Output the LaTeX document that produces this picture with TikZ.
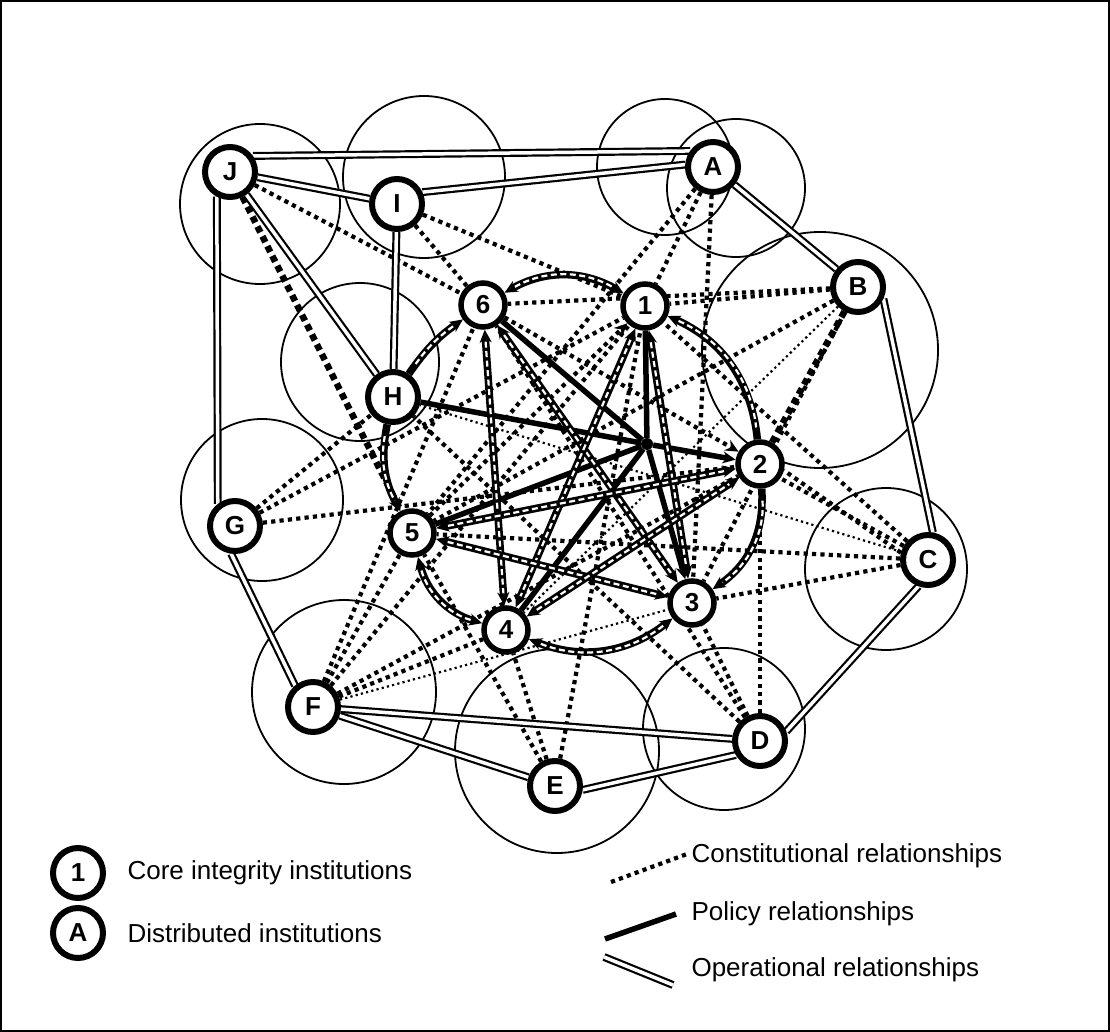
\documentclass[tikz,border=0pt]{standalone}
\usepackage{fontspec}
\setmainfont{Liberation Sans}
\usetikzlibrary{arrows.meta}
\pgfdeclarelayer{bg}
\pgfsetlayers{bg,main}
\begin{document}
\begin{tikzpicture}[x=1pt,y=-1pt,
  >={Stealth[length=13pt,width=12pt]},
  dist/.style={circle,draw,line width=6pt,fill=white,minimum size=50pt,inner sep=0pt,font=\fontsize{26}{30}\selectfont\bfseries},
  core/.style={circle,draw,line width=5.5pt,fill=white,minimum size=44pt,inner sep=0pt,font=\fontsize{26}{30}\selectfont\bfseries},
  zone/.style={draw,line width=1.8pt},
  cons/.style={line width=4.2pt,dash pattern=on 4.2pt off 4.2pt},
  consheavy/.style={line width=6.5pt,dash pattern=on 6.5pt off 4.5pt},
  consthin/.style={line width=2.2pt,dash pattern=on 2.2pt off 3.2pt},
  oper/.style={double,double distance=3.5pt,line width=2.2pt},
  pol/.style={line width=5.5pt},
  mix/.style={line width=7.5pt,postaction={draw=white,line width=2.2pt,dash pattern=on 6pt off 3.5pt,-,shorten >=12pt,shorten <=12pt}},
  lab/.style={anchor=west,font=\fontsize{26}{30}\selectfont}]
\useasboundingbox (0,0) rectangle (1110,1032);
\draw[line width=1.8pt] (1,1) rectangle (1109,1031);
% distributed nodes
\node[dist] (J) at (230,172) {J};
\node[dist] (I) at (397,204) {I};
\node[dist] (A) at (713,167) {A};
\node[dist] (B) at (858,287) {B};
\node[dist] (H) at (393,397) {H};
\node[dist] (G) at (235,526) {G};
\node[dist] (C) at (928,560) {C};
\node[dist] (F) at (313,707) {F};
\node[dist] (D) at (760,741) {D};
\node[dist] (E) at (555,786) {E};
% core nodes
\node[core] (n6) at (483,305) {6};
\node[core] (n1) at (645,306) {1};
\node[core] (n2) at (760,464) {2};
\node[core] (n3) at (692,603) {3};
\node[core] (n4) at (506,630) {4};
\node[core] (n5) at (412,533) {5};
\node[circle,fill,inner sep=0pt,minimum size=12pt] (hub) at (647,444) {};
\begin{pgfonlayer}{bg}
% zones
\draw[zone] (260,204) circle[radius=80pt];
\draw[zone] (424,177) circle[radius=81pt];
\draw[zone] (665,167) circle[radius=68pt];
\draw[zone] (736,188) circle[radius=69pt];
\draw[zone] (820,350) circle[radius=118pt];
\draw[zone] (360,362) circle[radius=79pt];
\draw[zone] (262,500) circle[radius=81pt];
\draw[zone] (344,692) circle[radius=92pt];
\draw[zone] (886,569) circle[radius=81pt];
\draw[zone] (724,729) circle[radius=81pt];
\draw[zone] (557,751) circle[radius=102pt];
% constitutional
\draw[cons] (J) -- (n6);
\draw[cons] (I) -- (n6);
\draw[cons] (I) -- (n1);
\draw[cons] (A) -- (n5);
\draw[cons] (A) -- (n1);
\draw[cons] (A) -- (n3);
\draw[cons] (B) -- (n6);
\draw[cons] (B) -- (n1);
\draw[cons] (B) -- (n5);
\draw[cons] (B) -- (n3);
\draw[cons] (C) -- (n1);
\draw[cons] (C.165) -- (n2.-15);
\draw[cons] (C.150) -- (n2.-35);
\draw[cons] (C) -- (n5);
\draw[cons] (C) -- (n3);
\draw[cons] (D) -- (n2);
\draw[cons] (D) -- (n3);
\draw[cons] (D) -- (n6);
\draw[cons] (D) -- (H);
\draw[cons] (E) -- (n1);
\draw[cons] (E) -- (n4);
\draw[cons] (E) -- (n5);
\draw[cons] (F) -- (n6);
\draw[cons] (F) -- (n5);
\draw[cons] (F) -- (n1);
\draw[cons] (F) -- (n2);
\draw[cons] (F) -- (n4);
\draw[cons] (G) -- (H);
\draw[cons] (G) -- (n1);
\draw[cons] (G) -- (n2);
\draw[cons,->] (n6) -- (n2);
\draw[cons,->] (n5) -- (n1);
\draw[consheavy] (J) -- (n5);
\draw[consheavy] (B) -- (n2);
\draw[consthin] (B) -- (n4);
\draw[consthin] (C) -- (H);
\draw[consthin] (F) -- (n3);
% operational
\draw[oper] (J.35) -- (A.145);
\draw[oper] (I.25) -- (A.175);
\draw[oper] (J) -- (I);
\draw[oper] (J.242) -- (G.128);
\draw[oper] (J) -- (H);
\draw[oper] (I) -- (H);
\draw[oper] (A) -- (B);
\draw[oper] (B.-25) -- (C.80);
\draw[oper] (C.250) -- (D.20);
\draw[oper] (D.210) -- (E.-8);
\draw[oper] (F) -- (D);
\draw[oper] (F) -- (E);
\draw[oper] (G.262) -- (F.130);
% policy
\draw[pol] (H) -- (hub);
\draw[pol,->] (hub) -- (n2);
\draw[pol] (n6) -- (hub);
\draw[pol,->] (hub) -- (n3);
\draw[pol] (n1) -- (hub);
\draw[pol] (hub) -- (n4);
\draw[pol] (n5) -- (hub);
% mixed ring
\draw[mix,->] (H) to[bend left=10] (n6);
\draw[mix,<->] (n6) to[bend left=30] (n1);
\draw[mix,<-] (n1) to[bend left=30] (n2);
\draw[mix,->] (n2) to[bend left=30] (n3);
\draw[mix,<->] (n3) to[bend left=30] (n4);
\draw[mix,<->] (n4) to[bend left=30] (n5);
\draw[mix,->] (H) to[bend right=20] (n5);
% mixed chords
\draw[mix,<->] (n6) -- (n4);
\draw[mix,<->] (n6) -- (n3);
\draw[mix,<->] (n1) -- (n4);
\draw[mix,<->] (n1) -- (n3);
\draw[mix,<->] (n5) -- (n2);
\draw[mix,<->] (n5) -- (n3);
\draw[mix,<->] (n4) -- (n2);
\end{pgfonlayer}
% legend
\node[dist] (L1) at (78,873) {1};
\node[dist] (LA) at (78,933) {A};
\node[lab] (t1) at (124,873) {Core integrity institutions};
\node[lab] (tA) at (124,933) {Distributed institutions};
\coordinate (c1) at (611,882);
\coordinate (c2) at (687,854);
\draw[cons] (c1) -- (c2);
\node[lab] (tc) at (688,856) {Constitutional relationships};
\coordinate (p1) at (605,939);
\coordinate (p2) at (676,914);
\draw[pol] (p1) -- (p2);
\node[lab] (tp) at (688,914) {Policy relationships};
\coordinate (o1) at (604,957);
\coordinate (o2) at (673,985);
\draw[oper] (o1) -- (o2);
\node[lab] (to) at (688,970) {Operational relationships};
\end{tikzpicture}
\end{document}
